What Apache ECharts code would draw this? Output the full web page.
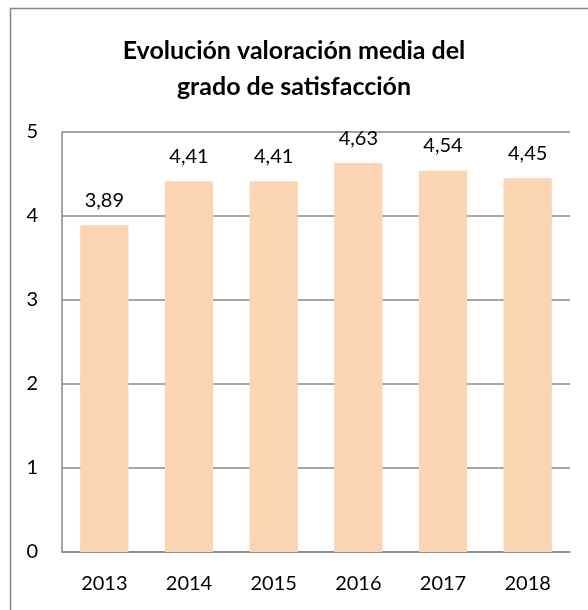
<!DOCTYPE html>
<html>
<head>
  <meta charset="utf-8" />
  <title>Evolución valoración media</title>
  <script src="https://cdn.jsdelivr.net/npm/echarts@6/dist/echarts.min.js"></script>
  <style>
    html, body { margin: 0; padding: 0; background: #fff; }
  </style>
</head>
<body>
  <div id="main" style="width: 588px;height:610px;"></div>
  <script type="text/javascript">
    // datos
    var years = ['2013', '2014', '2015', '2016', '2017', '2018'];
    var scores = [3.89, 4.41, 4.41, 4.63, 4.54, 4.45];
    var yTicks = [0, 1, 2, 3, 4, 5];

    var font = 'Lato, "Open Sans", sans-serif';
    var myChart = echarts.init(document.getElementById('main'));

    var option = {
      animation: false,
      backgroundColor: '#fff',
      title: {
        text: 'Evolución valoración media del\ngrado de satisfacción',
        left: 'center',
        top: 28,
        textStyle: {
          fontFamily: font,
          fontSize: 25,
          fontWeight: 'bold',
          color: '#000',
          lineHeight: 36
        }
      },
      // marco exterior del gráfico
      graphic: [{
        type: 'rect',
        silent: true,
        shape: { x: 10.5, y: 8.5, width: 700, height: 700 },
        style: { fill: 'none', stroke: '#888', lineWidth: 1.5 }
      }],
      grid: {
        left: 62,
        right: 18,
        top: 132,
        bottom: 58
      },
      xAxis: {
        type: 'category',
        data: years,
        axisTick: { show: false },
        axisLine: { lineStyle: { color: '#898989', width: 1.5 } },
        axisLabel: { color: '#000', fontSize: 20, fontFamily: font, margin: 22 }
      },
      yAxis: {
        type: 'value',
        min: yTicks[0],
        max: yTicks[yTicks.length - 1],
        interval: 1,
        axisLine: { show: true, lineStyle: { color: '#898989', width: 1.5 } },
        axisTick: { show: false },
        splitLine: { lineStyle: { color: '#898989', width: 1.5 } },
        axisLabel: { color: '#000', fontSize: 20, fontFamily: font, margin: 24 }
      },
      series: [{
        type: 'bar',
        data: scores,
        barWidth: '57%',
        itemStyle: { color: '#FBD4B4' },
        label: {
          show: true,
          position: 'top',
          distance: 15,
          color: '#000',
          fontSize: 20,
          fontFamily: font,
          formatter: function (p) {
            return p.value.toFixed(2).replace('.', ',');
          }
        }
      }]
    };

    option && myChart.setOption(option);
  </script>
</body>
</html>
